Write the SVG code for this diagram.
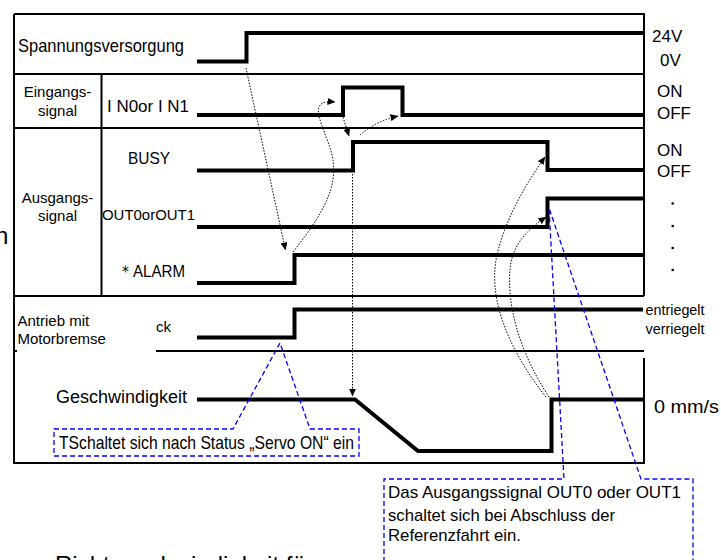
<svg xmlns="http://www.w3.org/2000/svg" width="721" height="560" viewBox="0 0 721 560">
<style>
.frame{stroke:#000;stroke-width:2;fill:none}
.sig{stroke:#000;stroke-width:4;fill:none;stroke-linejoin:miter;stroke-linecap:butt}
.dot{stroke:#000;stroke-width:1;stroke-dasharray:1.5 1.5;fill:none}
.blue{stroke:#0000ff;stroke-width:1.3;stroke-dasharray:5 3;fill:none}
text{font-family:"Liberation Sans",Arial,sans-serif;fill:#000}
</style>
<defs>
<marker id="ah" markerUnits="userSpaceOnUse" markerWidth="8" markerHeight="7" refX="7.5" refY="3.5" orient="auto">
<path d="M0,0 L8,3.5 L0,7 z" fill="#000"/>
</marker>
</defs>
<rect width="721" height="560" fill="#fff"/>

<g id="frame">
<path class="frame" d="M14,14 H644 V296 M644,358 V463 H14 V14"/>
<path class="frame" d="M14,74 H644 M14,128 H644 M14,296 H644 M101.5,74 V296 M156,351 H644 M14,351 H17"/>
</g>

<g id="row-power">
<text x="18" y="52" font-size="19" textLength="166" lengthAdjust="spacingAndGlyphs">Spannungsversorgung</text>
<path class="sig" d="M197,61.5 H246.5 V33 H644"/>
<text x="652" y="42" font-size="17">24V</text>
<text x="660" y="66" font-size="17">0V</text>
</g>

<g id="row-input">
<text x="57.5" y="97" font-size="15" text-anchor="middle">Eingangs-</text>
<text x="57.5" y="116" font-size="15" text-anchor="middle">signal</text>
<text x="107" y="112" font-size="17" textLength="82" lengthAdjust="spacingAndGlyphs">I N0or I N1</text>
<path class="sig" d="M197,115 H343 V87.5 H402.5 V115 H644"/>
<text x="657" y="97" font-size="17">ON</text>
<text x="657" y="119" font-size="17">OFF</text>
</g>

<g id="row-output">
<text x="57.5" y="203" font-size="15" text-anchor="middle">Ausgangs-</text>
<text x="57.5" y="221" font-size="15" text-anchor="middle">signal</text>
<text x="128" y="164" font-size="17" textLength="42" lengthAdjust="spacingAndGlyphs">BUSY</text>
<text x="102" y="220" font-size="15" textLength="93" lengthAdjust="spacingAndGlyphs">OUT0orOUT1</text>
<text x="118" y="277" font-size="17" textLength="67" lengthAdjust="spacingAndGlyphs">＊ALARM</text>
<path class="sig" d="M197,170.5 H353 V142 H547.5 V170 H644"/>
<path class="sig" d="M197,227 H547.5 V198.5 H644"/>
<path class="sig" d="M197,283 H294.5 V255 H644"/>
<text x="657" y="156" font-size="17">ON</text>
<text x="657" y="177" font-size="17">OFF</text>
<circle cx="672.7" cy="203.5" r="1.3"/>
<circle cx="672.7" cy="226" r="1.3"/>
<circle cx="672.7" cy="248" r="1.3"/>
<circle cx="672.7" cy="270" r="1.3"/>
</g>

<g id="row-brake">
<text x="17.5" y="326" font-size="15">Antrieb mit</text>
<text x="17.5" y="344" font-size="15">Motorbremse</text>
<text x="156" y="332" font-size="15">ck</text>
<path class="sig" d="M197,337.5 H294.5 V309.5 H643"/>
<text x="645.5" y="315" font-size="14" textLength="59" lengthAdjust="spacingAndGlyphs">entriegelt</text>
<text x="645.5" y="334" font-size="14" textLength="59" lengthAdjust="spacingAndGlyphs">verriegelt</text>
</g>

<g id="row-speed">
<text x="56" y="403" font-size="18">Geschwindigkeit</text>
<path class="sig" d="M197,399.5 H355 L418,451 H551.5 V399.5 H643"/>
<text x="654" y="413" font-size="18" textLength="65" lengthAdjust="spacingAndGlyphs">0 mm/s</text>
</g>

<g id="connectors">
<path class="dot" d="M246,68 L285.5,250" marker-end="url(#ah)"/>
<path class="dot" d="M293,252 C330,205 342,178 328,142 C318,115 310,100 335,102" marker-end="url(#ah)"/>
<path class="dot" d="M343,117 L349,136" marker-end="url(#ah)"/>
<path class="dot" d="M360,135 Q376,121 398,116" marker-end="url(#ah)"/>
<path class="dot" d="M352.5,174 V396" marker-end="url(#ah)"/>
<path class="dot" d="M546,397 C505,345 488,295 497,255 C505,220 525,185 545,157" marker-end="url(#ah)"/>
<path class="dot" d="M549,397 C518,350 505,300 511,262 C516,240 530,228 546,217" marker-end="url(#ah)"/>
</g>

<g id="callout-servo">
<path class="blue" d="M54,429 H233 L280,343 L310,429 H359 V456 H54 Z"/>
<text x="59" y="449" font-size="19" textLength="295" lengthAdjust="spacingAndGlyphs">TSchaltet sich nach Status „Servo ON“ ein</text>
</g>

<g id="callout-out">
<path class="blue" d="M384,562 V479 H564 L549,208 L641,479 H693 V562"/>
<text x="388" y="498" font-size="17" textLength="293" lengthAdjust="spacingAndGlyphs">Das Ausgangssignal OUT0 oder OUT1</text>
<text x="388" y="521" font-size="17" textLength="227" lengthAdjust="spacingAndGlyphs">schaltet sich bei Abschluss der</text>
<text x="388" y="541" font-size="17" textLength="133" lengthAdjust="spacingAndGlyphs">Referenzfahrt ein.</text>
</g>

<g id="clipped-text">
<text x="-5" y="244" font-size="24">n</text>
<text x="55" y="573" font-size="24">Richtgeschwindigkeit für</text>
</g>
</svg>
